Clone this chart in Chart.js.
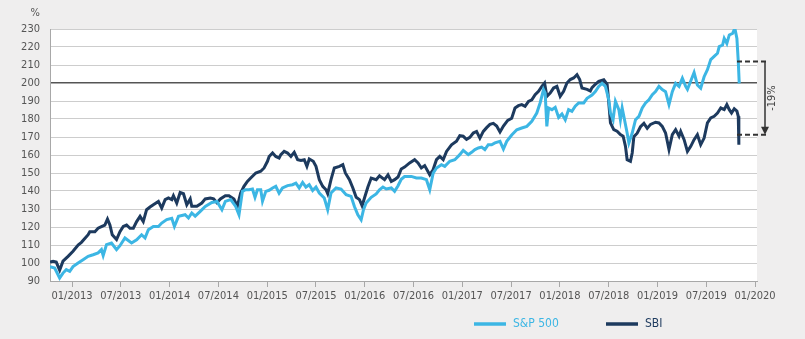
<!DOCTYPE html>
<html>
<head>
<meta charset="utf-8">
<script src="https://cdn.jsdelivr.net/npm/chart.js@4.4.1/dist/chart.umd.min.js"></script>
<style>
  html, body { margin: 0; padding: 0; background: #efeeee; }
  #wrap { width: 805px; height: 339px; }
</style>
</head>
<body>
<div id="wrap"><canvas id="chart" width="805" height="339"></canvas></div>
<script>
// axis setup
const yMin = 90;
const yMax = 230;
const xMin = 2012.774;
const xMax = 2020.02;
const tickValues = [2013, 2013.5, 2014, 2014.5, 2015, 2015.5, 2016, 2016.5, 2017, 2017.5, 2018, 2018.5, 2019, 2019.5, 2020];
const tickLabels = ["01/2013", "07/2013", "01/2014", "07/2014", "01/2015", "07/2015", "01/2016", "07/2016",
  "01/2017", "07/2017", "01/2018", "07/2018", "01/2019", "07/2019", "01/2020"];

// S&P 500 (decimal year, index)
const spDates = [
  2012.774, 2012.822, 2012.873, 2012.907, 2012.941, 2012.976, 2013.010, 2013.062, 2013.113, 2013.165,
  2013.216, 2013.267, 2013.301, 2013.319, 2013.353, 2013.404, 2013.456, 2013.491, 2013.542, 2013.610,
  2013.662, 2013.713, 2013.748, 2013.782, 2013.833, 2013.885, 2013.919, 2013.970, 2014.022, 2014.049,
  2014.091, 2014.159, 2014.193, 2014.227, 2014.262, 2014.314, 2014.365, 2014.433, 2014.485, 2014.536,
  2014.571, 2014.626, 2014.677, 2014.711, 2014.746, 2014.780, 2014.814, 2014.849, 2014.875, 2014.900,
  2014.934, 2014.952, 2014.986, 2015.020, 2015.055, 2015.088, 2015.122, 2015.157, 2015.209, 2015.260,
  2015.294, 2015.328, 2015.363, 2015.397, 2015.431, 2015.466, 2015.500, 2015.534, 2015.585, 2015.620,
  2015.654, 2015.706, 2015.757, 2015.809, 2015.860, 2015.894, 2015.929, 2015.963, 2015.987, 2016.014,
  2016.066, 2016.117, 2016.151, 2016.186, 2016.220, 2016.272, 2016.306, 2016.341, 2016.374, 2016.408,
  2016.477, 2016.529, 2016.580, 2016.632, 2016.666, 2016.701, 2016.735, 2016.786, 2016.820, 2016.871,
  2016.923, 2016.974, 2017.009, 2017.061, 2017.095, 2017.129, 2017.164, 2017.198, 2017.231, 2017.266,
  2017.300, 2017.334, 2017.386, 2017.421, 2017.455, 2017.506, 2017.558, 2017.609, 2017.661, 2017.712,
  2017.763, 2017.797, 2017.832, 2017.849, 2017.866, 2017.884, 2017.918, 2017.952, 2017.987, 2018.021,
  2018.055, 2018.089, 2018.123, 2018.157, 2018.192, 2018.244, 2018.278, 2018.329, 2018.363, 2018.398,
  2018.432, 2018.466, 2018.501, 2018.518, 2018.545, 2018.569, 2018.604, 2018.620, 2018.638, 2018.655,
  2018.689, 2018.707, 2018.741, 2018.775, 2018.810, 2018.844, 2018.878, 2018.912, 2018.947, 2018.980,
  2019.015, 2019.049, 2019.083, 2019.118, 2019.152, 2019.186, 2019.221, 2019.255, 2019.289, 2019.307,
  2019.341, 2019.375, 2019.409, 2019.443, 2019.478, 2019.512, 2019.546, 2019.581, 2019.615, 2019.633,
  2019.667, 2019.684, 2019.711, 2019.736, 2019.770, 2019.793, 2019.814, 2019.828, 2019.838
];
const spValues = [
  98, 97.2, 91.7, 94.4, 96.3, 95.4, 98, 100, 101.8, 103.7,
  104.6, 105.6, 107.4, 104.1, 110.2, 111.1, 107.4, 109.6, 113.9, 111.1,
  112.9, 115.7, 113.9, 118.5, 120.3, 120.3, 122.2, 124.1, 124.8, 120.3,
  125.9, 126.8, 125, 127.8, 126, 128.7, 131.4, 133.6, 134.2, 129.6,
  134.2, 135.2, 131.4, 126.8, 139.8, 140.7, 140.7, 141.1, 136.5, 140.7,
  140.7, 134.3, 139.8, 140.4, 141.7, 142.6, 138.8, 141.7, 143, 143.5,
  144.4, 141.7, 144.8, 142.2, 143.5, 140.3, 142.2, 138.9, 136.1, 129.6,
  138.9, 141.7, 141.1, 137.9, 137, 131.4, 126.8, 124, 129.6, 133.3,
  136.5, 138.4, 140.7, 142.2, 141.1, 141.7, 139.8, 142.9, 146.5, 148,
  148.1, 147.2, 147.2, 146.3, 140.7, 149.9, 152.8, 154.6, 153.7, 156.5,
  157.4, 160.2, 162.6, 160.2, 161.5, 163, 163.9, 164.4, 163, 165.7,
  165.7, 166.7, 167.6, 163.3, 167.6, 171.1, 174, 175, 175.9, 178.7,
  183.3, 188.9, 196.3, 194.4, 175.9, 186.1, 185.2, 186.5, 180.9, 182.8,
  179.6, 185.2, 184.3, 187.1, 188.9, 188.9, 191.5, 193.3, 195.2, 198.1,
  199.8, 198.1, 190.7, 183.3, 179.6, 189.8, 185.2, 179.6, 186.1, 181.5,
  172.2, 166.7, 172.2, 179.6, 181.5, 186.1, 188.9, 190.7, 193.5, 195.2,
  198.1, 196.3, 195.2, 188, 195.2, 199.8, 198.1, 202.6, 198.1, 196.5,
  201.1, 205.8, 198.9, 197.1, 203.5, 207.4, 213, 214.8, 216.5, 220.2,
  221.1, 224.8, 222, 226.7, 227.6, 230.4, 224.8, 212, 199.8
];

// SBI (decimal year, index)
const sbiDates = [
  2012.774, 2012.805, 2012.838, 2012.873, 2012.907, 2012.959, 2013.010, 2013.062, 2013.096, 2013.165,
  2013.182, 2013.234, 2013.267, 2013.301, 2013.336, 2013.363, 2013.388, 2013.412, 2013.456, 2013.491,
  2013.525, 2013.559, 2013.594, 2013.628, 2013.662, 2013.697, 2013.730, 2013.764, 2013.799, 2013.833,
  2013.885, 2013.919, 2013.954, 2013.988, 2014.022, 2014.039, 2014.073, 2014.108, 2014.142, 2014.176,
  2014.211, 2014.227, 2014.279, 2014.330, 2014.365, 2014.417, 2014.451, 2014.485, 2014.520, 2014.571,
  2014.608, 2014.659, 2014.694, 2014.728, 2014.762, 2014.797, 2014.831, 2014.883, 2014.934, 2014.968,
  2015.003, 2015.020, 2015.055, 2015.088, 2015.122, 2015.140, 2015.174, 2015.209, 2015.243, 2015.277,
  2015.312, 2015.346, 2015.380, 2015.407, 2015.431, 2015.472, 2015.500, 2015.534, 2015.569, 2015.603,
  2015.620, 2015.654, 2015.688, 2015.740, 2015.775, 2015.801, 2015.843, 2015.878, 2015.912, 2015.946,
  2015.973, 2015.997, 2016.032, 2016.066, 2016.117, 2016.151, 2016.203, 2016.238, 2016.272, 2016.306,
  2016.341, 2016.374, 2016.408, 2016.460, 2016.511, 2016.546, 2016.580, 2016.614, 2016.666, 2016.701,
  2016.735, 2016.769, 2016.804, 2016.838, 2016.889, 2016.940, 2016.974, 2017.009, 2017.043, 2017.077,
  2017.112, 2017.146, 2017.180, 2017.215, 2017.249, 2017.283, 2017.318, 2017.352, 2017.386, 2017.421,
  2017.465, 2017.506, 2017.540, 2017.575, 2017.609, 2017.643, 2017.678, 2017.712, 2017.746, 2017.781,
  2017.815, 2017.843, 2017.866, 2017.900, 2017.935, 2017.969, 2018.003, 2018.038, 2018.072, 2018.106,
  2018.141, 2018.175, 2018.203, 2018.226, 2018.278, 2018.312, 2018.329, 2018.363, 2018.398, 2018.450,
  2018.484, 2018.501, 2018.518, 2018.552, 2018.586, 2018.620, 2018.648, 2018.672, 2018.689, 2018.723,
  2018.741, 2018.758, 2018.792, 2018.826, 2018.861, 2018.895, 2018.929, 2018.980, 2019.015, 2019.049,
  2019.083, 2019.118, 2019.152, 2019.186, 2019.221, 2019.238, 2019.273, 2019.307, 2019.341, 2019.375,
  2019.409, 2019.443, 2019.478, 2019.512, 2019.546, 2019.581, 2019.615, 2019.649, 2019.684, 2019.711,
  2019.736, 2019.759, 2019.787, 2019.814, 2019.828, 2019.834
];
const sbiValues = [
  100.5, 101, 100.5, 96, 101, 103.7, 106.5, 110, 111.5, 115.7,
  117.4, 117.4, 119.3, 120.2, 121.1, 124.4, 121.1, 115.7, 113, 117.4,
  120.3, 121.1, 119.3, 119.3, 123, 125.9, 123, 129.6, 131.1, 132.4,
  134.2, 130.5, 135.2, 136.1, 135.2, 137.4, 133.3, 139.2, 138.5, 132.4,
  135.6, 131.5, 131.5, 133.3, 135.6, 136.1, 135.6, 133.5, 135.6, 137.4,
  137.4, 135.6, 131.4, 138.9, 142.6, 145.3, 147.2, 150, 151, 152.8,
  156.5, 159.2, 161.1, 159.2, 158.3, 160.2, 162, 161.1, 159.2, 161.5,
  157.4, 157, 157.4, 153.7, 157.8, 156.5, 153.7, 146.3, 142.6, 140.7,
  138.5, 146.3, 152.8, 153.7, 154.6, 150, 146.3, 141.7, 136.5, 135.2,
  131.8, 136.1, 142.2, 147.2, 146.3, 148.5, 146.3, 149, 145.3, 146.3,
  147.8, 152.2, 153.3, 155.6, 157.4, 155.6, 152.8, 154.1, 149, 151.9,
  157.4, 159.2, 157.4, 162, 165.7, 167.6, 170.7, 170.4, 168.7, 169.8,
  172.2, 173.1, 169.4, 173.1, 175.2, 177, 177.6, 176.1, 172.8, 176.1,
  179.2, 180.4, 186.1, 187.4, 188, 187, 189.8, 190.7, 193.5, 195.4,
  198.1, 200, 192.6, 194.4, 197.2, 198.1, 192.6, 195.4, 200, 201.9,
  202.8, 204.6, 201.9, 197.2, 196.5, 195.6, 197.4, 199.3, 200.9, 201.8,
  199.3, 188.9, 177.8, 174.1, 173.2, 171.3, 170.4, 164.8, 157.4, 156.5,
  161.1, 170.2, 172.1, 175.7, 177.6, 174.8, 177, 178.2, 177.8, 175.9,
  172.2, 163, 171.3, 174.1, 170.4, 173.1, 168.5, 162, 164.8, 168.5,
  171.3, 165.7, 169.4, 177.8, 180.6, 181.5, 183.3, 186.1, 185.2, 188,
  185.2, 183.3, 185.7, 184.4, 181.5, 165.7
];

// the -19% gap marker (index levels)
const gapLevels = [212, 171.3];
const gapText = "-19%";

const spColor = "#3cb6e4";
const sbiColor = "#1d3a5e";
const fontFamily = "'Liberation Sans Narrow', 'DejaVu Sans Condensed', 'Liberation Sans', sans-serif";

function toPoints(xs, ys) {
  const n = Math.min(xs.length, ys.length);
  const pts = [];
  for (let i = 0; i < n; i++) pts.push({ x: xs[i], y: ys[i] });
  return pts;
}

// grey page, white plotting area
const backgroundPlugin = {
  id: "background",
  beforeDraw(chart) {
    const { ctx, chartArea } = chart;
    ctx.save();
    ctx.fillStyle = "#efeeee";
    ctx.fillRect(0, 0, chart.width, chart.height);
    ctx.fillStyle = "#ffffff";
    ctx.fillRect(chartArea.left, chartArea.top, chartArea.right - chartArea.left, chartArea.bottom - chartArea.top);
    ctx.restore();
  },
};

// "%" unit, legend and the gap arrow
const overlayPlugin = {
  id: "overlay",
  afterDraw(chart) {
    const { ctx, chartArea } = chart;
    const yScale = chart.scales.y;
    ctx.save();

    // unit label
    ctx.fillStyle = "#555";
    ctx.font = "11px " + fontFamily;
    ctx.textAlign = "right";
    ctx.textBaseline = "middle";
    ctx.fillText("%", 40, 13);

    // legend
    const legendX = [474, 606];
    const legendY = 324;
    chart.data.datasets.forEach((ds, i) => {
      ctx.strokeStyle = ds.borderColor;
      ctx.lineWidth = 3.5;
      ctx.beginPath();
      ctx.moveTo(legendX[i], legendY);
      ctx.lineTo(legendX[i] + 32, legendY);
      ctx.stroke();
      ctx.fillStyle = ds.borderColor;
      ctx.font = "12px " + fontFamily;
      ctx.textAlign = "left";
      ctx.textBaseline = "middle";
      ctx.fillText(ds.label, legendX[i] + 39, legendY);
    });

    // gap marker
    const yTop = yScale.getPixelForValue(gapLevels[0]);
    const yBot = yScale.getPixelForValue(gapLevels[1]);
    const x0 = chartArea.right - 20;
    const x1 = chartArea.right + 11;
    const ax = chartArea.right + 8;
    ctx.strokeStyle = "#333";
    ctx.lineWidth = 2;
    ctx.setLineDash([5, 3]);
    ctx.beginPath();
    ctx.moveTo(x0, yTop); ctx.lineTo(x1, yTop);
    ctx.moveTo(x0, yBot); ctx.lineTo(x1, yBot);
    ctx.stroke();
    ctx.setLineDash([]);
    ctx.lineWidth = 1.5;
    ctx.beginPath();
    ctx.moveTo(ax, yTop);
    ctx.lineTo(ax, yBot - 6);
    ctx.stroke();
    ctx.fillStyle = "#333";
    ctx.beginPath();
    ctx.moveTo(ax - 4, yBot - 8);
    ctx.lineTo(ax + 4, yBot - 8);
    ctx.lineTo(ax, yBot);
    ctx.closePath();
    ctx.fill();

    ctx.translate(ax + 7, (yTop + yBot) / 2);
    ctx.rotate(-Math.PI / 2);
    ctx.fillStyle = "#444";
    ctx.font = "11px " + fontFamily;
    ctx.textAlign = "center";
    ctx.textBaseline = "middle";
    ctx.fillText(gapText, 0, 0);
    ctx.restore();
  },
};

const ctx = document.getElementById("chart").getContext("2d");

new Chart(ctx, {
  type: "line",
  data: {
    datasets: [
      {
        label: "S&P 500",
        data: toPoints(spDates, spValues),
        borderColor: spColor,
        borderWidth: 3,
        pointRadius: 0,
        tension: 0,
      },
      {
        label: "SBI",
        data: toPoints(sbiDates, sbiValues),
        borderColor: sbiColor,
        borderWidth: 3,
        pointRadius: 0,
        tension: 0,
      },
    ],
  },
  options: {
    responsive: false,
    animation: false,
    layout: { padding: { top: 29, right: 48, bottom: 0, left: 0 } },
    plugins: {
      legend: { display: false },
      tooltip: { enabled: false },
    },
    scales: {
      x: {
        type: "linear",
        min: xMin,
        max: xMax,
        afterBuildTicks(scale) {
          scale.ticks = tickValues.map((v) => ({ value: v }));
        },
        afterFit(scale) {
          scale.height = 58;
        },
        grid: {
          drawOnChartArea: false,
          drawTicks: true,
          tickLength: 6,
          color: "#a8a8a8",
        },
        border: { display: true, color: "#a8a8a8", width: 1 },
        ticks: {
          autoSkip: false,
          maxRotation: 0,
          padding: 3,
          color: "#555",
          font: { family: fontFamily, size: 11 },
          callback: (value, index) => tickLabels[index],
        },
      },
      y: {
        min: yMin,
        max: yMax,
        afterFit(scale) {
          scale.width = 50;
        },
        grid: {
          drawTicks: false,
          color: (c) => (c.tick && c.tick.value === 200 ? "#555555" : "#cdcdcd"),
          lineWidth: (c) => (c.tick && c.tick.value === 200 ? 1.5 : 1),
        },
        border: { display: true, color: "#a8a8a8", width: 1 },
        ticks: {
          stepSize: 10,
          padding: 10,
          color: "#555",
          font: { family: fontFamily, size: 11 },
        },
      },
    },
  },
  plugins: [backgroundPlugin, overlayPlugin],
});
</script>
</body>
</html>
